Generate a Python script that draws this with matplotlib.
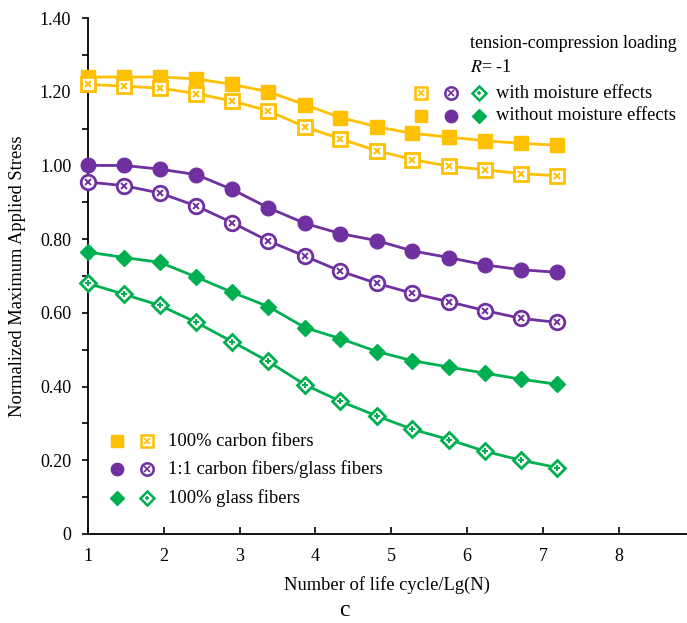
"""Normalized maximum applied stress vs. life cycle, tension-compression loading R=-1."""
import matplotlib
matplotlib.use('Agg')
import matplotlib.pyplot as plt

plt.rcParams['font.family'] = ['Liberation Serif', 'DejaVu Serif']
plt.rcParams['mathtext.fontset'] = 'stix'

# data
cycles = [1.0, 1.48, 1.95, 2.43, 2.9, 3.38, 3.86, 4.33, 4.81, 5.28, 5.76, 6.24, 6.71, 7.19]
carbon_dry = [1.24, 1.24, 1.24, 1.235, 1.22, 1.20, 1.165, 1.13, 1.105, 1.087, 1.077, 1.067, 1.06, 1.055]
carbon_wet = [1.22, 1.215, 1.21, 1.195, 1.175, 1.148, 1.105, 1.072, 1.04, 1.016, 0.998, 0.988, 0.978, 0.972]
hybrid_dry = [1.00, 1.00, 0.99, 0.975, 0.935, 0.885, 0.843, 0.815, 0.796, 0.768, 0.75, 0.73, 0.717, 0.71]
hybrid_wet = [0.955, 0.945, 0.925, 0.89, 0.845, 0.795, 0.754, 0.713, 0.68, 0.653, 0.63, 0.606, 0.585, 0.574]
glass_dry = [0.765, 0.75, 0.737, 0.697, 0.656, 0.617, 0.56, 0.53, 0.495, 0.47, 0.453, 0.436, 0.42, 0.406]
glass_wet = [0.68, 0.65, 0.62, 0.574, 0.522, 0.468, 0.405, 0.36, 0.32, 0.284, 0.256, 0.224, 0.2, 0.18]

yticks = [0, 0.2, 0.4, 0.6, 0.8, 1.0, 1.2, 1.4]
ytick_labels = ['0', '0.20', '0.40', '0.60', '0.80', '1.00', '1.20', '1.40']
xticks = [1, 2, 3, 4, 5, 6, 7, 8]

legend_materials = ['100% carbon fibers', '1:1 carbon fibers/glass fibers', '100% glass fibers']
legend_conditions = ['with moisture effects', 'without moisture effects']

YELLOW = '#FFC000'
PURPLE = '#7030A0'
GREEN = '#00B050'

fig = plt.figure(figsize=(6.87, 6.23), dpi=100)
ax = fig.add_axes([0.128, 0.143, 0.872, 0.828])


def hatched(x, y, color, marker, inner, ms=9, **kw):
    # open marker with a small cross inside, like the original's patterned symbols
    ax.plot(x, y, color=color, lw=2, marker=marker, ms=ms, mfc='white',
            mec=color, mew=2, clip_on=False, zorder=3, **kw)
    ax.plot(x, y, ls='none', marker=inner, ms=ms * 0.45, mec=color, mew=1.4,
            clip_on=False, zorder=4)


def solid(x, y, color, marker, ms=9, **kw):
    ax.plot(x, y, color=color, lw=2, marker=marker, ms=ms, mfc=color,
            mec=color, clip_on=False, zorder=3, **kw)


solid(cycles, carbon_dry, YELLOW, 's', ms=9.5)
hatched(cycles, carbon_wet, YELLOW, 's', 'x', ms=9.5)
solid(cycles, hybrid_dry, PURPLE, 'o', ms=10.5)
hatched(cycles, hybrid_wet, PURPLE, 'o', 'x', ms=10.5)
solid(cycles, glass_dry, GREEN, 'D', ms=8.5)
hatched(cycles, glass_wet, GREEN, 'D', '+', ms=8.5)

ax.set_xlim(1, 8.9)
ax.set_ylim(0, 1.4)
ax.set_xticks(xticks)
ax.set_yticks(yticks)
ax.set_yticklabels(ytick_labels)
ax.set_yticks([0.1, 0.3, 0.5, 0.7, 0.9, 1.1, 1.3], minor=True)
ax.tick_params(axis='x', direction='in', length=5, width=1.2, labelsize=13, pad=10)
ax.tick_params(axis='y', which='both', direction='out', length=4, width=1.2,
               labelsize=13, pad=8)
for s in ['top', 'right']:
    ax.spines[s].set_visible(False)
for s in ['left', 'bottom']:
    ax.spines[s].set_linewidth(1.3)

ax.set_ylabel('Normalized Maximum Applied Stress', fontsize=13.3, labelpad=10)
ax.set_xlabel('Number of life cycle/Lg(N)', fontsize=13.3, labelpad=8)
fig.text(0.502, 0.02, 'c', fontsize=17, ha='center', va='center')

# top-right legend
ax.text(6.04, 1.332, 'tension-compression loading', fontsize=13, va='center')
ax.text(6.04, 1.267, '$R$= -1', fontsize=13, va='center')
cond_y = [1.196, 1.135]
cond_markers = [('s', YELLOW, 9.5), ('o', PURPLE, 10.5), ('D', GREEN, 8.5)]
cond_x = [5.39, 5.79, 6.16]
inners = ['x', 'x', '+']
for (mk, col, ms), xx, inn in zip(cond_markers, cond_x, inners):
    ax.plot([xx], [cond_y[0]], ls='none', marker=mk, ms=ms * 0.85, mfc='white',
            mec=col, mew=1.8)
    ax.plot([xx], [cond_y[0]], ls='none', marker=inn, ms=ms * 0.4, mec=col, mew=1.2)
    ax.plot([xx], [cond_y[1]], ls='none', marker=mk, ms=ms * 0.85, mfc=col, mec=col)
for yy, lab in zip(cond_y, legend_conditions):
    ax.text(6.38, yy, lab, fontsize=13.3, va='center')

# bottom-left legend
mat_y = [0.252, 0.176, 0.097]
for (mk, col, ms), yy, inn, lab in zip(cond_markers, mat_y, inners, legend_materials):
    ax.plot([1.38], [yy], ls='none', marker=mk, ms=ms * 0.85, mfc=col, mec=col)
    ax.plot([1.78], [yy], ls='none', marker=mk, ms=ms * 0.85, mfc='white',
            mec=col, mew=1.8)
    ax.plot([1.78], [yy], ls='none', marker=inn, ms=ms * 0.4, mec=col, mew=1.2)
    ax.text(2.05, yy, lab, fontsize=13.3, va='center')

plt.savefig('out.png', dpi=100, facecolor='white')
plt.close()
print("OK: out.png")
